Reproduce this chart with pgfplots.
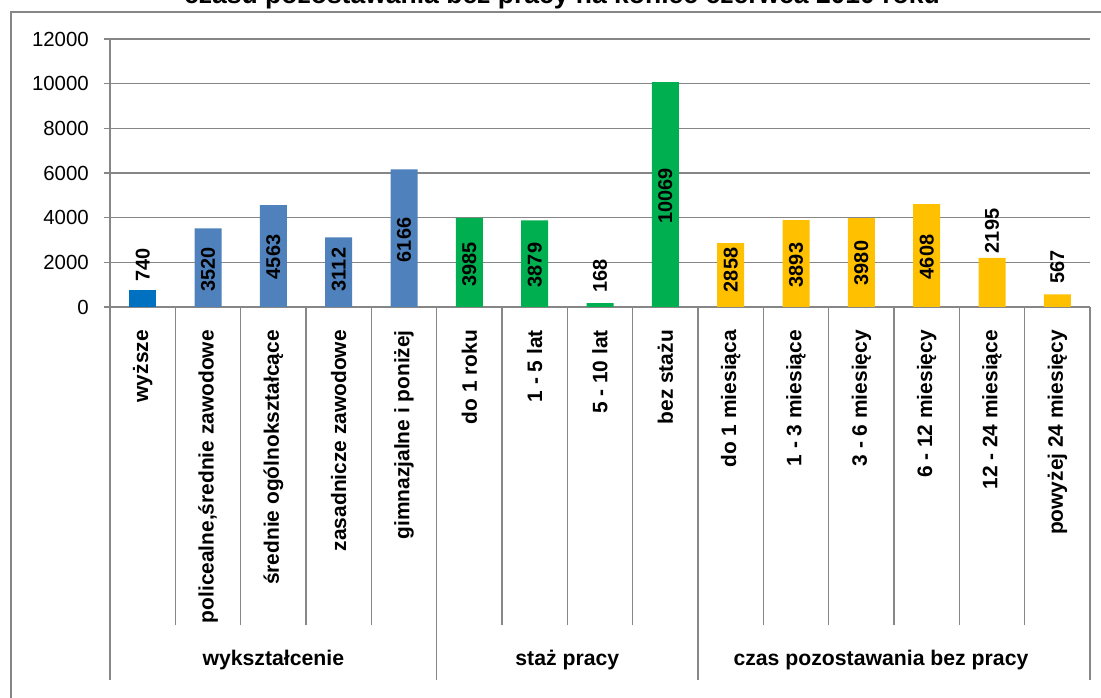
\documentclass[border=0pt]{standalone}
\usepackage{fontspec}
\setmainfont{Liberation Sans}
\usepackage{pgfplots}
\pgfplotsset{compat=1.18}
\definecolor{linegray}{RGB}{134,134,134}
\definecolor{bluedark}{RGB}{0,112,192}
\definecolor{blueexcel}{RGB}{79,129,189}
\definecolor{greenexcel}{RGB}{0,176,80}
\definecolor{yellowexcel}{RGB}{255,192,0}

% label centres (y), text = value
\pgfplotstableread{
x  y    lab
0  1880 740
1  1680 3520
2  2239 4563
3  1680 3112
4  3000 6166
5  1903 3985
6  1880 3879
7  1388 168
8  4970 10069
9  1657 2858
10 1880 3893
11 1970 3980
12 2239 4608
13 3403 2195
14 1791 567
}\labels

\begin{document}
\begin{tikzpicture}[x=1bp,y=1bp]
\useasboundingbox (0,0) rectangle (1101,698);
\clip (0,0) rectangle (1101,698);
\draw[linegray, line width=1.5bp] (11,-20) -- (11,686) -- (1130,686);
\node[font=\bfseries\fontsize{26.6}{30}\selectfont, anchor=base] at (562,694)
  {czasu pozostawania bez pracy na koniec czerwca 2010 roku};
\begin{axis}[
    at={(110bp,391bp)}, anchor=south west,
    scale only axis, width=980bp, height=268bp,
    xmin=-0.5, xmax=14.5, ymin=0, ymax=12000,
    clip=false,
    axis lines*=left,
    axis line style={linegray, line width=1.5bp},
    ymajorgrids,
    grid style={linegray, line width=1.5bp},
    ytick={0,2000,...,12000},
    scaled y ticks=false,
    /pgf/number format/1000 sep={},
    /pgf/number format/assume math mode=true,
    yticklabel style={font=\fontsize{20.5}{24}\selectfont, inner sep=0pt, xshift=-15bp},
    tick align=outside,
    major tick length=6bp,
    tick style={linegray, line width=1.5bp},
    xtick={-0.5,0.5,...,14.5},
    x tick label as interval,
    xticklabels={wyższe,{policealne,średnie zawodowe},średnie ogólnokształcące,zasadnicze zawodowe,gimnazjalne i poniżej,do 1 roku,1 - 5 lat,5 - 10 lat,bez stażu,do 1 miesiąca,1 - 3 miesiące,3 - 6 miesięcy,6 - 12 miesięcy,12 - 24 miesiące,powyżej 24 miesięcy},
    xtick style={/pgfplots/major tick length=318bp},
    xticklabel style={rotate=90, anchor=east, font=\bfseries\fontsize{21}{24}\selectfont, inner sep=0pt},
    xticklabel shift=17bp,
    bar width=27bp,
]
\addplot[ybar, fill=bluedark, draw=none] coordinates {(0,740)};
\addplot[ybar, fill=blueexcel, draw=none] coordinates {(1,3520) (2,4563) (3,3112) (4,6166)};
\addplot[ybar, fill=greenexcel, draw=none] coordinates {(5,3985) (6,3879) (7,168) (8,10069)};
\addplot[ybar, fill=yellowexcel, draw=none] coordinates {(9,2858) (10,3893) (11,3980) (12,4608) (13,2195) (14,567)};
\addplot[draw=none, mark=none, nodes near coords, point meta=explicit symbolic,
    every node near coord/.append style={anchor=center, rotate=90, inner sep=0pt,
      font=\bfseries\fontsize{20}{24}\selectfont}]
  table[x=x, y=y, meta=lab] {\labels};
% group separators of the two-level category axis
\draw[linegray, line width=1.5bp] (axis cs:-0.5,0) -- ++(0pt,-373bp);
\draw[linegray, line width=1.5bp] (axis cs:4.5,0) -- ++(0pt,-373bp);
\draw[linegray, line width=1.5bp] (axis cs:8.5,0) -- ++(0pt,-373bp);
\draw[linegray, line width=1.5bp] (axis cs:14.5,0) -- ++(0pt,-373bp);
\node[font=\bfseries\fontsize{21.3}{24}\selectfont] at (axis cs:2,0) [yshift=-353bp] {wykształcenie};
\node[font=\bfseries\fontsize{21.3}{24}\selectfont] at (axis cs:6.5,0) [yshift=-353bp] {staż pracy};
\node[font=\bfseries\fontsize{21.3}{24}\selectfont] at (axis cs:11.3,0) [yshift=-353bp] {czas pozostawania bez pracy};
\end{axis}
\end{tikzpicture}
\end{document}
